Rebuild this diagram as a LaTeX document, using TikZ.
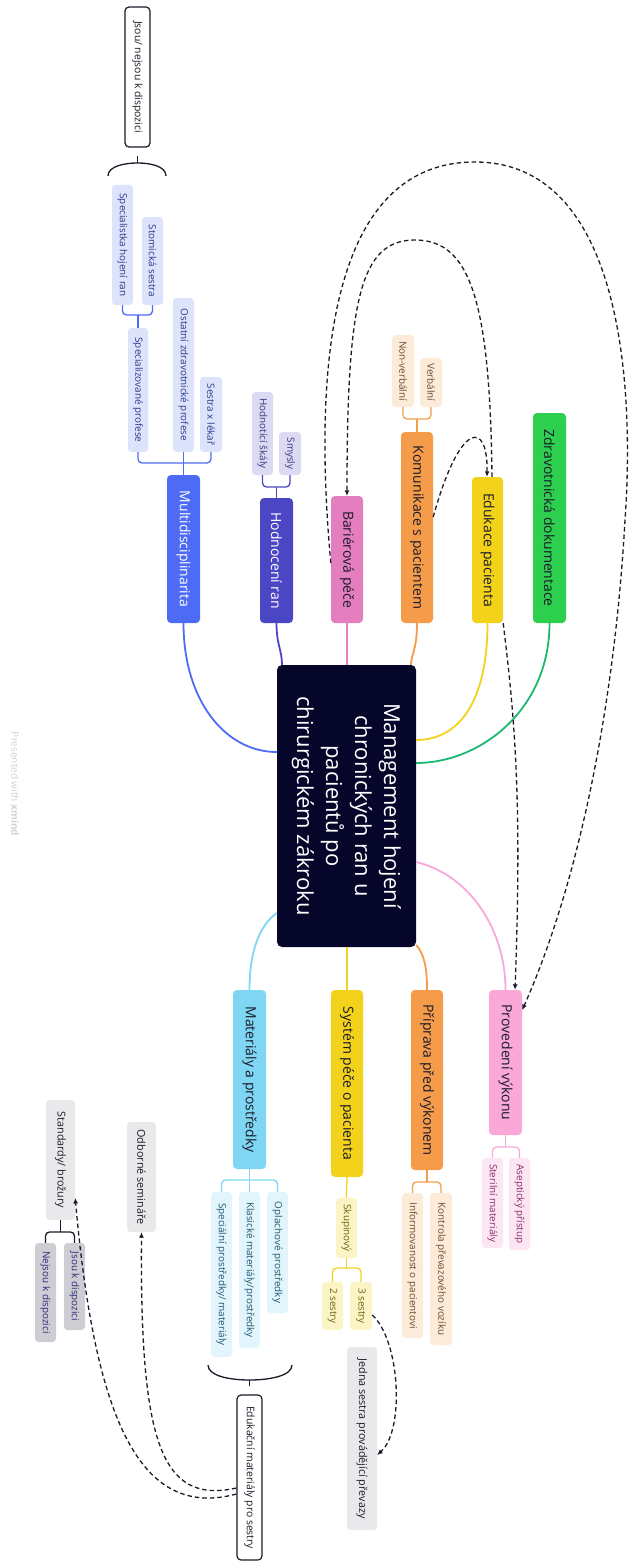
\documentclass[tikz,border=0pt]{standalone}
\usepackage{fontspec}
\setmainfont{Open Sans}
\usetikzlibrary{calc,arrows.meta}
\definecolor{cCentral}{HTML}{06062A}
\definecolor{cMulti}{HTML}{4D6BF5}
\definecolor{cHodn}{HTML}{4B47C4}
\definecolor{cBar}{HTML}{E57EBE}
\definecolor{cKom}{HTML}{F59C4A}
\definecolor{cEdu}{HTML}{F2D21A}
\definecolor{cZdrav}{HTML}{2DD04E}
\definecolor{cZdravLine}{HTML}{1DB870}
\definecolor{cProv}{HTML}{F9A8D8}
\definecolor{cMat}{HTML}{7FD6F2}
\definecolor{sMulti}{HTML}{DCE3FB}
\definecolor{tMulti}{HTML}{2B3A8C}
\definecolor{sHodn}{HTML}{DCDAF3}
\definecolor{tHodn}{HTML}{3A3680}
\definecolor{sOr}{HTML}{FDEBDA}
\definecolor{tOr}{HTML}{6B4A2A}
\definecolor{sPink}{HTML}{FCE6F3}
\definecolor{tPink}{HTML}{8A2D6E}
\definecolor{sYel}{HTML}{FBF5C6}
\definecolor{tYel}{HTML}{6E6210}
\definecolor{sBlue}{HTML}{E2F5FC}
\definecolor{tBlue}{HTML}{1E5870}
\definecolor{sGray}{HTML}{E9E9EC}
\definecolor{sGrayD}{HTML}{CDCDD3}
\definecolor{tNavy}{HTML}{2B2B7A}
\definecolor{cDark}{HTML}{1A1A2A}
\definecolor{cWater}{HTML}{D2D2D2}
\newcommand{\R}[1]{\rotatebox{-90}{#1}}
\begin{document}
\begin{tikzpicture}[x=1pt,y=-1pt,
  mainbox/.style={rounded corners=4pt, inner sep=0pt, text=cDark, font=\fontsize{14}{16}\selectfont},
  subbox/.style={rounded corners=3.5pt, inner sep=0pt, font=\fontsize{9.9}{11}\selectfont},
  graybox/.style={rounded corners=3.5pt, inner sep=0pt, fill=sGray, text=cDark, font=\fontsize{10.8}{12}\selectfont},
  framebox/.style={rounded corners=4pt, inner sep=0pt, draw=cDark, line width=1.2pt, fill=white, text=cDark, font=\fontsize{10.4}{12}\selectfont},
  conn/.style={line width=1.8pt},
  brk/.style={line width=1.3pt, rounded corners=4pt},
  darr/.style={draw=cDark, line width=1.3pt, dash pattern=on 4.5pt off 3pt, -{Latex[length=5.5pt,width=5pt]}}
]
\useasboundingbox (0,0) rectangle (630,1565);

% central
\node[rounded corners=5pt, inner sep=0pt, fill=cCentral, text=white, minimum width=139pt, minimum height=282pt,
  font=\fontsize{22}{29}\selectfont] (central) at (346.5,806)
  {\R{\begin{tabular}{@{}c@{}}Management hojení\\chronických ran u\\pacientů po\\chirurgickém zákroku\end{tabular}}};

% main branches
\node[mainbox, fill=cMulti, text=white, minimum width=33pt, minimum height=148pt] (multi) at (183.5,549) {\R{Multidisciplinarita}};
\node[mainbox, fill=cHodn, text=white, minimum width=33pt, minimum height=125pt] (hodn) at (276.5,560.5) {\R{Hodnocení ran}};
\node[mainbox, fill=cBar, minimum width=32pt, minimum height=127pt] (bar) at (347,559.5) {\R{Bariérová péče}};
\node[mainbox, fill=cKom, minimum width=32pt, minimum height=191pt] (kom) at (417,527.5) {\R{Komunikace s pacientem}};
\node[mainbox, fill=cEdu, minimum width=31pt, minimum height=146pt] (edu) at (487.5,550) {\R{Edukace pacienta}};
\node[mainbox, fill=cZdrav, minimum width=33pt, minimum height=210pt] (zdrav) at (549.5,518) {\R{Zdravotnická dokumentace}};
\node[mainbox, fill=cMat, minimum width=33pt, minimum height=179pt] (mat) at (249.5,1079.5) {\R{Materiály a prostředky}};
\node[mainbox, fill=cEdu, minimum width=32pt, minimum height=187pt] (sys) at (347,1083.5) {\R{Systém péče o pacienta}};
\node[mainbox, fill=cKom, minimum width=32pt, minimum height=180pt] (prip) at (427,1080) {\R{Příprava před výkonem}};
\node[mainbox, fill=cProv, minimum width=33pt, minimum height=145pt] (prov) at (505.5,1062.5) {\R{Provedení výkonu}};

% multidisciplinarita children
\node[subbox, fill=sMulti, text=tMulti, minimum width=22pt, minimum height=75pt] (sestra) at (211,414.5) {\R{Sestra x lékař}};
\node[subbox, fill=sMulti, text=tMulti, minimum width=21pt, minimum height=154pt] (ostatni) at (183.5,375) {\R{Ostatní zdravotnické profese}};
\node[subbox, fill=sMulti, text=tMulti, minimum width=20pt, minimum height=124pt] (specprof) at (138,390) {\R{Specializované profese}};
\node[subbox, fill=sMulti, text=tMulti, minimum width=21pt, minimum height=88pt] (stom) at (152.5,261) {\R{Stomická sestra}};
\node[subbox, fill=sMulti, text=tMulti, minimum width=21pt, minimum height=120pt] (spechoj) at (122.5,245) {\R{Specialistka hojení ran}};
\node[framebox, minimum width=25pt, minimum height=140pt] (jsou) at (137.5,77) {\R{Jsou/ nejsou k dispozici}};

% hodnoceni children
\node[subbox, fill=sHodn, text=tHodn, minimum width=22pt, minimum height=43pt] (smysly) at (290,453.5) {\R{Smysly}};
\node[subbox, fill=sHodn, text=tHodn, minimum width=21pt, minimum height=83pt] (skaly) at (262.5,433.5) {\R{Hodnotící škály}};

% komunikace children
\node[subbox, fill=sOr, text=tOr, minimum width=22pt, minimum height=49pt] (verb) at (431,382.5) {\R{Verbální}};
\node[subbox, fill=sOr, text=tOr, minimum width=22pt, minimum height=72pt] (nonverb) at (403,371) {\R{Non-verbální}};

% provedeni children
\node[subbox, fill=sPink, text=tPink, minimum width=21pt, minimum height=92pt] (asep) at (519.5,1204) {\R{Aseptický přístup}};
\node[subbox, fill=sPink, text=tPink, minimum width=21pt, minimum height=90pt] (steril) at (492.5,1203) {\R{Sterilní materiály}};

% priprava children
\node[subbox, fill=sOr, text=tOr, minimum width=22pt, minimum height=152pt] (kontrola) at (441,1269) {\R{Kontrola převazového vozíku}};
\node[subbox, fill=sOr, text=tOr, minimum width=21pt, minimum height=145pt] (inform) at (412.5,1265.5) {\R{Informovanost o pacientovi}};

% system children
\node[subbox, fill=sYel, text=tYel, minimum width=21pt, minimum height=60pt] (skup) at (346.5,1228) {\R{Skupinový}};
\node[subbox, fill=sYel, text=tYel, minimum width=22pt, minimum height=48pt] (tri) at (361,1306) {\R{3 sestry}};
\node[subbox, fill=sYel, text=tYel, minimum width=21pt, minimum height=48pt] (dve) at (332.5,1306) {\R{2 sestry}};
\node[graybox, minimum width=30pt, minimum height=183pt] (jedna) at (362,1438.5) {\R{Jedna sestra provádějící převazy}};

% materialy children
\node[subbox, fill=sBlue, text=tBlue, minimum width=21pt, minimum height=121pt] (opl) at (277.5,1252.5) {\R{Oplachové prostředky}};
\node[subbox, fill=sBlue, text=tBlue, minimum width=21pt, minimum height=156pt] (klas) at (249.5,1270) {\R{Klasické materiály/prostředky}};
\node[subbox, fill=sBlue, text=tBlue, minimum width=21pt, minimum height=165pt] (spec) at (221.5,1274.5) {\R{Speciální prostředky/ materiály}};
\node[framebox, minimum width=25pt, minimum height=165pt] (edukm) at (249.5,1477.5) {\R{Edukační materiály pro sestry}};

% left gray nodes
\node[graybox, minimum width=29pt, minimum height=110pt] (odb) at (141.5,1177) {\R{Odborné semináře}};
\node[graybox, minimum width=29pt, minimum height=120pt] (std) at (60.5,1160) {\R{Standardy/ brožury}};
\node[subbox, fill=sGrayD, text=tNavy, minimum width=21pt, minimum height=87pt] (jsoukd) at (74.5,1286.5) {\R{Jsou k dispozici}};
\node[subbox, fill=sGrayD, text=tNavy, minimum width=21pt, minimum height=99pt] (nejsou) at (45.5,1292.5) {\R{Nejsou k dispozici}};

% watermark
\node[text=cWater, inner sep=0pt, font=\fontsize{10}{12}\selectfont] (wm) at (15,784) {\R{Presented with \textbf{xmind}}};

% main connectors
\draw[conn, cMulti] (central.west |- 0,752) .. controls (225,752) and (183.5,700) .. (multi.south);
\draw[conn, cHodn] (hodn.south) .. controls (276.5,645) and (282,650) .. (282,0 |- central.north);
\draw[conn, cBar] (bar.south) -- (bar.south |- central.north);
\draw[conn, cKom] (kom.south) .. controls (417,650) and (411,655) .. (411,0 |- central.north);
\draw[conn, cEdu] (edu.south) .. controls (487.5,700) and (460,740) .. (central.east |- 0,740);
\draw[conn, cZdravLine] (zdrav.south) .. controls (549.5,710) and (480,763) .. (central.east |- 0,763);
\draw[conn, cProv] (central.east |- 0,862) .. controls (470,875) and (505.5,930) .. (prov.north);
\draw[conn, cKom] (central.east |- 0,945) .. controls (425,955) and (427,970) .. (prip.north);
\draw[conn, cEdu] (sys.north |- central.south) -- (sys.north);
\draw[conn, cMat] (central.west |- 0,913) .. controls (260,925) and (249.5,950) .. (mat.north);

% brackets
\draw[brk, cMulti] (sestra.south) |- (specprof.south |- 0,463) -- (specprof.south);
\draw[brk, cMulti] (ostatni.south) -- (ostatni.south |- 0,463);
\draw[brk, cMulti] (multi.north) -- (multi.north |- 0,463);
\draw[brk, cMulti] (stom.south) |- (spechoj.south |- 0,315) -- (spechoj.south);
\draw[brk, cMulti] (specprof.north) -- (specprof.north |- 0,315);

\draw[brk, cHodn] (smysly.south) |- (skaly.south |- 0,487) -- (skaly.south);
\draw[brk, cHodn] (hodn.north) -- (hodn.north |- 0,487);

\draw[brk, cKom] (verb.south) |- (nonverb.south |- 0,419) -- (nonverb.south);
\draw[brk, cKom] (kom.north) -- (kom.north |- 0,419);

\draw[brk, cProv] (asep.north) |- (steril.north |- 0,1147) -- (steril.north);
\draw[brk, cProv] (prov.south) -- (prov.south |- 0,1147);

\draw[brk, cKom] (kontrola.north) |- (inform.north |- 0,1182) -- (inform.north);
\draw[brk, cKom] (prip.south) -- (prip.south |- 0,1182);

\draw[brk, cEdu] (sys.south) -- (skup.north);
\draw[brk, cEdu] (tri.north) |- (dve.north |- 0,1268) -- (dve.north);
\draw[brk, cEdu] (skup.south) -- (skup.south |- 0,1268);

\draw[brk, cMat] (opl.north) |- (spec.north |- 0,1180) -- (spec.north);
\draw[brk, cMat] (klas.north) -- (klas.north |- 0,1180);
\draw[brk, cMat] (mat.south) -- (mat.south |- 0,1180);

\draw[brk, cDark] (jsoukd.north) |- (nejsou.north |- 0,1232) -- (nejsou.north);
\draw[brk, cDark] (std.south) -- (std.south |- 0,1232);

% braces
\coordinate (bt) at (137.5,163);
\draw[line width=1.3pt, cDark] (108,176) .. controls (108,166) and (125,163) .. (bt) .. controls (150,163) and (166,166) .. (166,176);
\draw[line width=1.3pt, cDark] (bt) -- ([yshift=-8pt]jsou.south);
\coordinate (bb) at (249.5,1380);
\draw[line width=1.3pt, cDark] (208,1365) .. controls (208,1376) and (230,1380) .. (bb) .. controls (269,1380) and (292,1376) .. (292,1365);
\draw[line width=1.3pt, cDark] (bb) -- ([yshift=8pt]edukm.north);

% dashed arrows
\draw[darr] (bar.south west |- 0,563) .. controls (316,400) and (318,162) .. (475,162)
  .. controls (620,162) and (635,380) .. (625,520)
  .. controls (615,700) and (580,880) .. (prov.north east |- 0,1010);
\draw[darr] (492,0 |- edu.north) .. controls (490,300) and (470,240) .. (415,240)
  .. controls (360,240) and (347,300) .. (bar.north);
\draw[darr] (kom.north east |- 0,517) .. controls (460,420) and (488,420) .. (487,0 |- edu.north);
\draw[darr] (edu.south east) .. controls (515,720) and (522,800) .. (515,0 |- prov.north);
\draw[darr] (tri.south east |- 0,1315) .. controls (400,1340) and (405,1430) .. (jedna.north east |- 0,1455);
\draw[darr] (edukm.north west |- 0,1488) .. controls (160,1505) and (140,1440) .. (odb.south);
\draw[darr] (edukm.north west |- 0,1494) .. controls (140,1520) and (95,1420) .. (std.east |- 0,1198);
\end{tikzpicture}
\end{document}
